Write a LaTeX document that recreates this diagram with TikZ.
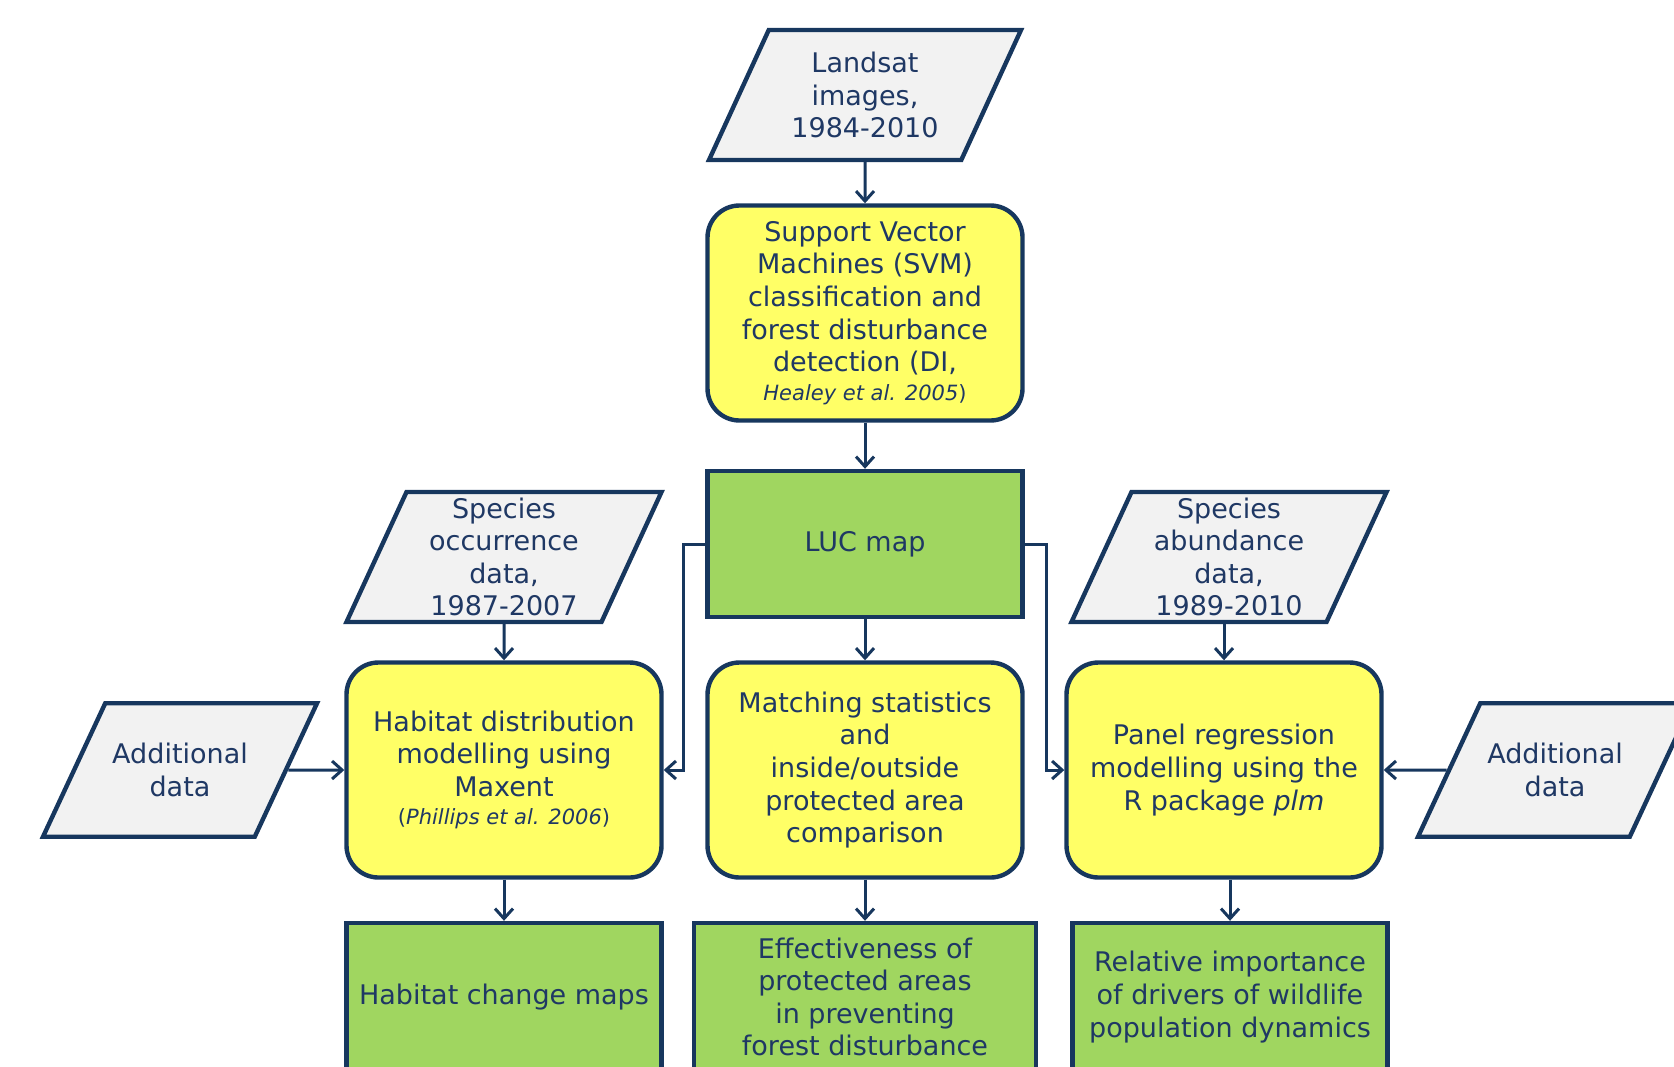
\documentclass[tikz,border=0pt]{standalone}
\usepackage{fontspec}
\setmainfont{DejaVu Sans}
\usepackage{xcolor}
\usepackage{tikz}
\usetikzlibrary{shapes.geometric, arrows.meta}
\definecolor{flowline}{HTML}{17375E}
\definecolor{flowtext}{HTML}{1F3864}
\definecolor{procyellow}{HTML}{FFFF66}
\definecolor{outgreen}{HTML}{A0D660}
\definecolor{datagray}{HTML}{F2F2F2}

\begin{document}
\begin{tikzpicture}[x=0.5pt, y=-0.5pt,
    every node/.style={text=flowtext, font=\fontsize{13.5}{16.3}\selectfont,
      align=center, inner sep=0pt},
    databox/.style={trapezium, trapezium left angle=65, trapezium right angle=115,
      trapezium stretches body, draw=flowline, fill=datagray, line width=2.2pt,
      minimum width=157.5pt, minimum height=65pt},
    procbox/.style={rectangle, rounded corners=16pt, draw=flowline, fill=procyellow,
      line width=2.2pt, minimum width=157.5pt, minimum height=107.5pt},
    outbox/.style={rectangle, draw=flowline, fill=outgreen, line width=2.2pt,
      minimum width=157.5pt, minimum height=74pt},
    arr/.style={draw=flowline, line width=1.5pt, -{Straight Barb[length=5pt, width=9pt]}}]
  \useasboundingbox (0,0) rectangle (1674,1066);
  \clip (0,0) rectangle (1674,1066);

  % inputs
  \node[databox, minimum width=156pt, inner ysep=10.5pt] (landsat) at (865,95) {Landsat\\images,\\1984-2010};
  \node[databox, inner ysep=2.5pt] (occ) at (504,557) {Species\\occurrence\\data,\\1987-2007};
  \node[databox, inner ysep=2.5pt] (abund) at (1229,557) {Species\\abundance\\data,\\1989-2010};
  \node[databox, minimum width=137pt, inner ysep=20pt] (addl) at (180,770) {Additional\\data};
  \node[databox, minimum width=137pt, inner ysep=20pt] (addr) at (1555,770) {Additional\\data};

  % processing
  \node[procbox] (svm) at (865,313) {Support Vector\\Machines (SVM)\\classification and\\forest disturbance\\detection (DI,\\[-2pt]{\fontsize{10.5}{13}\selectfont\textit{Healey et al. 2005})}};
  \node[outbox, minimum height=73pt] (luc) at (865,544) {LUC map};
  \node[procbox] (hab) at (504,770) {Habitat distribution\\modelling using\\Maxent\\[-2pt]{\fontsize{10.5}{13}\selectfont(\textit{Phillips et al. 2006})}};
  \node[procbox] (match) at (865,770) {Matching statistics\\and\\inside/outside\\protected area\\comparison};
  \node[procbox] (panel) at (1224,770) {Panel regression\\modelling using the\\R package \textit{plm}};

  % outputs
  \node[outbox] (hcm) at (504,997) {Habitat change maps};
  \node[outbox, minimum width=171pt] (eff) at (865,997) {Effectiveness of\\protected areas\\in preventing\\forest disturbance};
  \node[outbox] (rel) at (1230,997) {Relative importance\\of drivers of wildlife\\population dynamics};

  % connectors
  \draw[arr] (landsat.south) -- (svm.north);
  \draw[arr] (svm.south) -- (luc.north);
  \draw[arr] (luc.south) -- (match.north);
  \draw[arr] (luc.west) -- ++(-11pt,0) |- (hab.east);
  \draw[arr] (luc.east) -- ++(11pt,0) |- (panel.west);
  \draw[arr] (occ.south) -- (hab.north);
  \draw[arr] (abund.south -| panel.north) -- (panel.north);
  \draw[arr] (addl.east) -- (hab.west);
  \draw[arr] (addr.west) -- (panel.east);
  \draw[arr] (hab.south) -- (hcm.north);
  \draw[arr] (match.south) -- (eff.north);
  \draw[arr] (panel.south -| rel.north) -- (rel.north);
\end{tikzpicture}
\end{document}
